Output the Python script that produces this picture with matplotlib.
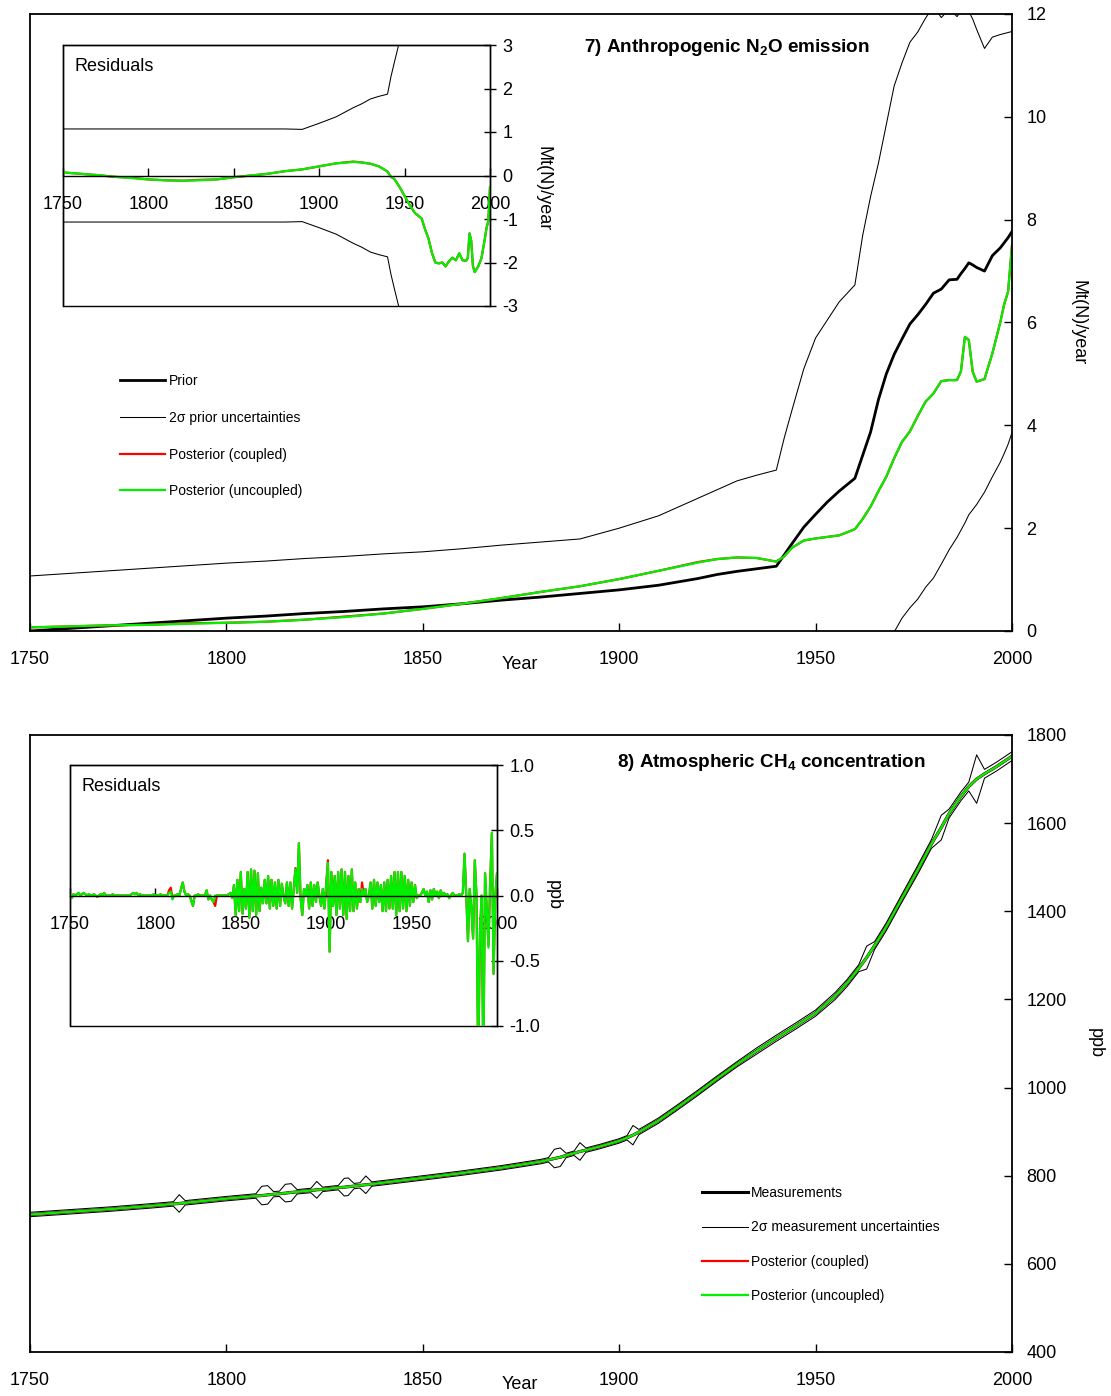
import matplotlib
matplotlib.use('Agg')
import matplotlib.pyplot as plt
import numpy as np

plt.rcParams['font.family'] = ['Liberation Sans', 'DejaVu Sans']
plt.rcParams['mathtext.fontset'] = 'custom'
plt.rcParams['mathtext.rm'] = 'Liberation Sans'
plt.rcParams['mathtext.bf'] = 'Liberation Sans:bold'
plt.rcParams['mathtext.it'] = 'Liberation Sans:italic'
plt.rcParams['axes.unicode_minus'] = False

# ---------------- N2O emission data (Mt(N)/year) ----------------
n2o_years = [1750, 1760, 1770, 1780, 1790, 1800, 1810, 1820, 1830, 1840, 1850, 1860, 1870, 1880, 1890,
             1900, 1910, 1920, 1925, 1930, 1935, 1940, 1942, 1944, 1947, 1950, 1953, 1956,
             1960, 1962, 1964, 1966, 1968, 1970, 1972, 1974, 1976, 1978, 1980, 1982, 1984, 1986,
             1987, 1988, 1989, 1990, 1991, 1993, 1995, 1997, 1998, 1999, 2000]
n2o_prior = [0.00, 0.05, 0.10, 0.15, 0.20, 0.25, 0.29, 0.34, 0.38, 0.43, 0.47, 0.53, 0.60, 0.66, 0.73,
             0.80, 0.89, 1.02, 1.10, 1.16, 1.21, 1.26, 1.48, 1.70, 2.02, 2.27, 2.51, 2.72,
             2.97, 3.42, 3.87, 4.50, 5.00, 5.38, 5.68, 5.97, 6.15, 6.35, 6.57, 6.65, 6.83, 6.84,
             6.95, 7.05, 7.16, 7.12, 7.07, 7.00, 7.30, 7.45, 7.55, 7.65, 7.77]
n2o_prior_upper = [1.07, 1.12, 1.17, 1.22, 1.27, 1.32, 1.36, 1.41, 1.45, 1.50, 1.54, 1.60, 1.67, 1.73, 1.79,
                   2.00, 2.24, 2.58, 2.75, 2.92, 3.03, 3.13, 3.75, 4.30, 5.10, 5.70, 6.05, 6.40,
                   6.73, 7.70, 8.45, 9.10, 9.85, 10.60, 11.05, 11.45, 11.65, 11.92, 12.15, 11.93, 12.10, 11.95,
                   12.05, 12.10, 12.05, 11.90, 11.70, 11.33, 11.55, 11.60, 11.62, 11.64, 11.66]
n2o_prior_lower = [-1.07, -1.02, -0.97, -0.92, -0.87, -0.82, -0.78, -0.73, -0.69, -0.64, -0.60, -0.54, -0.47, -0.41, -0.33,
                   -0.40, -0.46, -0.54, -0.55, -0.60, -0.61, -0.61, -0.79, -0.90, -1.06, -1.16, -1.03, -0.96,
                   -0.79, -0.86, -0.71, -0.60, -0.40, -0.02, 0.25, 0.45, 0.62, 0.85, 1.03, 1.30, 1.58, 1.82,
                   1.96, 2.10, 2.26, 2.36, 2.46, 2.70, 3.00, 3.28, 3.45, 3.63, 3.86]
n2o_post_uncoupled = [0.07, 0.09, 0.11, 0.12, 0.14, 0.16, 0.18, 0.22, 0.27, 0.34, 0.43, 0.53, 0.64, 0.76, 0.87,
                      1.01, 1.17, 1.33, 1.40, 1.43, 1.42, 1.35, 1.45, 1.62, 1.76, 1.80, 1.83, 1.86,
                      1.98, 2.18, 2.42, 2.72, 3.00, 3.36, 3.68, 3.88, 4.18, 4.46, 4.62, 4.86, 4.88, 4.88,
                      5.05, 5.72, 5.66, 5.04, 4.85, 4.90, 5.40, 6.00, 6.35, 6.60, 7.50]
n2o_post_coupled = [0.07, 0.09, 0.11, 0.12, 0.15, 0.16, 0.18, 0.22, 0.28, 0.34, 0.43, 0.53, 0.64, 0.76, 0.87,
                    1.01, 1.17, 1.34, 1.40, 1.43, 1.42, 1.35, 1.45, 1.62, 1.76, 1.80, 1.83, 1.86,
                    1.98, 2.18, 2.42, 2.72, 3.00, 3.36, 3.68, 3.88, 4.18, 4.46, 4.62, 4.86, 4.88, 4.88,
                    5.05, 5.72, 5.66, 5.04, 4.85, 4.90, 5.40, 6.00, 6.35, 6.60, 7.50]

# ---------------- CH4 concentration data (ppb) ----------------
ch4_years = [1750, 1760, 1770, 1780, 1786.5, 1788, 1789.5, 1800,
             1807.5, 1809, 1810.5, 1812, 1813.5, 1815, 1816.5, 1818,
             1821.5, 1823, 1824.5, 1828.5, 1830, 1831, 1832.5, 1834,
             1835.5, 1837, 1850, 1860, 1870, 1880, 1882, 1883.5,
             1885, 1886.5, 1888.5, 1890, 1891.5, 1895, 1900, 1902,
             1903.5, 1905, 1910, 1915, 1920, 1925, 1930, 1935,
             1940, 1945, 1950, 1955, 1958, 1961, 1963, 1965,
             1968, 1972, 1976, 1979.5, 1982, 1984, 1987, 1989,
             1991, 1993, 1996, 2000]
ch4_meas = [712, 718, 724, 731, 736, 737, 738.5, 748,
            754, 755, 756.5, 758, 759, 760.5, 762, 763.5,
            766.5, 768, 769, 773, 774, 775, 776.5, 778,
            779.5, 781, 795, 806, 818, 832, 836, 839,
            842, 846, 851, 855, 858, 866, 879, 886,
            892, 899, 925, 956, 988, 1021, 1053, 1083,
            1112, 1140, 1169, 1208, 1237, 1271, 1295, 1322,
            1365, 1430, 1494, 1553, 1590, 1622, 1661, 1683,
            1700, 1712, 1728, 1752]
ch4_2sigma = [5, 5, 5, 5, 5, 20, 5, 5,
              5, 21, 21, 6, 6, 20, 20, 5,
              5, 19, 5, 5, 20, 20, 6, 6,
              20, 5, 5, 5, 5, 5, 5, 21,
              21, 5, 5, 20, 5, 5, 5, 5,
              22, 6, 6, 6, 6, 6, 6, 7,
              7, 7, 7, 8, 8, 8, 26, 9,
              9, 9, 10, 10, 28, 10, 10, 10,
              55, 10, 10, 10]

resid_years = list(range(1750, 2001))
ch4_resid_uncoupled = [
    0.00, -0.02, 0.01, 0.00, 0.01, 0.02, 0.00, 0.01, 0.02, 0.01,
    0.00, 0.01, 0.00, 0.00, 0.01, 0.00, -0.01, 0.00, 0.01, 0.00,
    0.02, 0.00, 0.00, 0.00, 0.00, 0.01, 0.00, 0.00, 0.00, 0.00,
    0.00, 0.00, 0.00, 0.00, 0.00, 0.00, 0.01, 0.02, 0.01, 0.02,
    0.00, 0.01, 0.00, 0.00, 0.00, 0.00, 0.00, 0.00, 0.00, 0.01,
    0.00, 0.00, 0.00, 0.01, 0.00, 0.00, 0.00, 0.00, 0.02, 0.03,
    -0.03, 0.00, 0.00, 0.01, 0.00, 0.05, 0.10, 0.03, 0.00, 0.01,
    0.00, -0.04, -0.08, 0.00, 0.00, 0.01, 0.00, 0.00, 0.00, 0.00,
    0.04, -0.03, 0.00, -0.03, -0.05, 0.00, 0.00, 0.00, 0.00, 0.00,
    0.00, 0.00, 0.00, 0.01, 0.02, -0.02, 0.08, -0.15, 0.12, -0.12,
    0.18, -0.14, 0.05, -0.10, 0.18, -0.17, 0.20, -0.12, 0.19, -0.15,
    0.17, -0.12, 0.06, -0.06, 0.12, -0.06, 0.15, -0.10, 0.12, -0.08,
    0.10, -0.10, 0.12, -0.08, 0.09, 0.00, -0.06, 0.10, -0.08, 0.10,
    -0.10, 0.05, 0.20, 0.02, 0.40, -0.02, -0.15, 0.05, 0.00, 0.08,
    -0.10, 0.10, -0.08, 0.08, -0.05, 0.10, 0.00, -0.08, 0.05, -0.10,
    0.08, 0.25, -0.43, 0.18, -0.08, 0.15, -0.15, 0.18, -0.10, 0.20,
    -0.15, 0.18, -0.18, 0.15, -0.12, 0.20, -0.12, 0.10, -0.10, 0.05,
    -0.05, 0.05, 0.00, 0.05, -0.05, 0.00, 0.10, -0.10, 0.12, -0.08,
    0.10, -0.05, 0.08, -0.12, 0.10, -0.12, 0.12, -0.10, 0.15, -0.10,
    0.18, -0.15, 0.18, -0.12, 0.18, -0.10, 0.15, -0.12, 0.12, -0.08,
    0.10, -0.05, 0.08, -0.02, 0.00, 0.00, 0.02, 0.05, 0.00, 0.03,
    -0.05, 0.04, -0.03, 0.05, 0.00, 0.03, -0.02, 0.04, 0.00, 0.02,
    0.00, 0.01, -0.02, 0.00, 0.02, 0.00, 0.00, 0.00, 0.01, 0.00,
    0.02, 0.32, 0.00, -0.35, 0.05, -0.10, -0.33, 0.27, 0.00, -1.30,
    -0.30, 0.00, -1.30, 0.17, -0.10, -0.40, 0.10, 0.48, -0.60, 0.00,
    0.17]
ch4_resid_coupled = [
    0.00, -0.02, 0.01, 0.00, 0.01, 0.02, 0.00, 0.01, 0.02, 0.01,
    0.00, 0.01, 0.00, 0.00, 0.01, 0.00, -0.01, 0.00, 0.01, 0.00,
    0.02, 0.00, 0.00, 0.00, 0.00, 0.01, 0.00, 0.00, 0.00, 0.00,
    0.00, 0.00, 0.00, 0.00, 0.00, 0.00, 0.01, 0.02, 0.01, 0.02,
    0.00, 0.01, 0.00, 0.00, 0.00, 0.00, 0.00, 0.00, 0.00, 0.01,
    0.00, 0.00, 0.00, 0.01, 0.00, 0.00, 0.00, 0.00, 0.04, 0.06,
    -0.02, 0.00, 0.00, 0.01, 0.00, 0.05, 0.10, 0.03, 0.00, 0.01,
    0.00, -0.04, -0.08, 0.00, 0.00, 0.01, 0.00, 0.00, 0.00, 0.00,
    0.04, -0.03, 0.00, -0.03, -0.05, -0.08, 0.00, 0.00, 0.00, 0.00,
    0.00, 0.00, 0.00, 0.01, 0.02, -0.02, 0.08, -0.15, 0.12, -0.12,
    0.18, -0.14, 0.05, -0.10, 0.18, -0.17, 0.20, -0.12, 0.19, -0.15,
    0.17, -0.12, 0.06, -0.06, 0.12, -0.06, 0.15, -0.10, 0.12, -0.08,
    0.10, -0.10, 0.12, -0.08, 0.09, 0.00, -0.06, 0.10, -0.08, 0.10,
    -0.10, 0.05, 0.21, 0.02, 0.40, -0.02, -0.15, 0.05, 0.00, 0.08,
    -0.10, 0.10, -0.08, 0.08, -0.05, 0.10, 0.00, -0.08, 0.05, -0.10,
    0.08, 0.27, -0.43, 0.18, -0.08, 0.15, -0.15, 0.18, -0.10, 0.20,
    -0.15, 0.18, -0.18, 0.15, -0.12, 0.20, -0.12, 0.10, -0.10, 0.05,
    -0.05, 0.10, 0.00, 0.05, -0.05, 0.00, 0.10, -0.10, 0.12, -0.08,
    0.10, -0.05, 0.08, -0.12, 0.10, -0.12, 0.12, -0.10, 0.15, -0.10,
    0.18, -0.15, 0.18, -0.12, 0.18, -0.10, 0.15, -0.12, 0.12, -0.08,
    0.10, -0.05, 0.08, -0.02, 0.00, 0.00, 0.02, 0.05, 0.00, 0.03,
    -0.05, 0.04, -0.03, 0.05, 0.00, 0.03, -0.02, 0.04, 0.00, 0.02,
    0.00, 0.01, -0.02, 0.00, 0.02, 0.00, 0.00, 0.00, 0.01, 0.00,
    0.02, 0.32, 0.00, -0.35, 0.05, -0.10, -0.33, 0.27, 0.00, -1.30,
    -0.30, 0.00, -1.30, 0.17, -0.10, -0.38, 0.10, 0.48, -0.60, 0.00,
    0.17]

GREEN = '#00f000'
RED = '#ff0000'
FS = 13

W, H = 1111, 1396
fig = plt.figure(figsize=(W / 100, H / 100), dpi=100)


def fax(l, t, r, b):
    return fig.add_axes([l / W, 1 - b / H, (r - l) / W, (b - t) / H])


def style_main(ax, ylim, yticks, ylabel, ylabel_x, year_y):
    ax.set_xlim(1750, 2000)
    ax.set_ylim(*ylim)
    ax.set_xticks(range(1750, 2001, 50))
    ax.set_yticks(yticks)
    ax.yaxis.tick_right()
    ax.tick_params(axis='x', direction='in', length=6, width=1, pad=14.5, labelsize=FS)
    ax.tick_params(axis='y', direction='in', length=6, width=1, pad=10.5, labelsize=FS)
    for s in ax.spines.values():
        s.set_linewidth(1.3)
    ax.yaxis.set_label_position('right')
    ax.set_ylabel(ylabel, fontsize=FS, rotation=270, va='center', ha='center')
    ax.yaxis.set_label_coords(ylabel_x, 0.5)
    ax.text(0.499, year_y, 'Year', transform=ax.transAxes, ha='center', va='center', fontsize=FS)


def style_inset(ax, ylim, yticks, ylabel, ylabel_x, ylabel_y, fmt):
    ax.set_facecolor('white')
    ax.set_xlim(1750, 2000)
    ax.set_ylim(*ylim)
    ax.set_xticks(range(1750, 2001, 50))
    ax.set_yticks(yticks)
    ax.set_yticklabels([fmt.format(v) for v in yticks])
    ax.spines['bottom'].set_position(('data', 0))
    for s in ax.spines.values():
        s.set_linewidth(1.0)
    ax.patch.set_edgecolor('black')
    ax.patch.set_linewidth(1.0)
    ax.yaxis.tick_right()
    ax.tick_params(axis='x', direction='in', length=6, width=1, pad=14.5, labelsize=FS)
    ax.tick_params(axis='y', direction='inout', length=8, width=1, pad=5, labelsize=FS)
    ax.yaxis.set_label_position('right')
    ax.set_ylabel(ylabel, fontsize=FS, rotation=270, va='center', ha='center')
    ax.yaxis.set_label_coords(ylabel_x, ylabel_y)
    ax.text(0.028, 0.917, 'Residuals', transform=ax.transAxes, ha='left', va='center', fontsize=FS)


# ================= Panel 7: N2O emission =================
ax1 = fax(30, 14, 1012, 631)
yrs = np.array(n2o_years, dtype=float)
prior = np.array(n2o_prior)
up = np.array(n2o_prior_upper)
lo = np.array(n2o_prior_lower)
pu = np.array(n2o_post_uncoupled)
pc = np.array(n2o_post_coupled)

l_unc, = ax1.plot(yrs, up, color='black', lw=0.75)
ax1.plot(yrs, lo, color='black', lw=0.75)
l_prior, = ax1.plot(yrs, prior, color='black', lw=2.0)
l_red, = ax1.plot(yrs, pc, color=RED, lw=1.6)
l_green, = ax1.plot(yrs, pu, color=GREEN, lw=1.6)
style_main(ax1, (0, 12), range(0, 13, 2), 'Mt(N)/year', 1.067, -0.054)
ax1.text(0.564, 0.9465, r'7) Anthropogenic N$_{\mathbf{2}}$O emission', transform=ax1.transAxes,
         ha='left', va='center', fontsize=13.6, fontweight='bold')
ax1.legend([l_prior, l_unc, l_red, l_green],
           ['Prior', '2σ prior uncertainties', 'Posterior (coupled)', 'Posterior (uncoupled)'],
           loc='upper left', bbox_to_anchor=(0.0916, 0.4166), frameon=False, fontsize=10,
           borderpad=0, borderaxespad=0, handlelength=3.24, handletextpad=0.29, labelspacing=1.64)

ins1 = fax(63, 45, 490, 306)
ins1.plot(yrs, up - prior, color='black', lw=0.75)
ins1.plot(yrs, lo - prior, color='black', lw=0.75)
ins1.plot(yrs, pc - prior, color=RED, lw=1.6)
ins1.plot(yrs, pu - prior, color=GREEN, lw=1.6)
style_inset(ins1, (-3, 3), [-3, -2, -1, 0, 1, 2, 3], 'Mt(N)/year', 1.125, 0.45, '{:g}')

# ================= Panel 8: CH4 concentration =================
ax2 = fax(30, 735, 1012, 1352)
cy = np.array(ch4_years, dtype=float)
cm = np.array(ch4_meas, dtype=float)
cs = np.array(ch4_2sigma, dtype=float)
m_unc, = ax2.plot(cy, cm + cs, color='black', lw=0.75)
ax2.plot(cy, cm - cs, color='black', lw=0.75)
m_meas, = ax2.plot(cy, cm, color='black', lw=2.2)
m_red, = ax2.plot(cy, cm, color=RED, lw=1.6)
m_green, = ax2.plot(cy, cm, color=GREEN, lw=1.6)
style_main(ax2, (400, 1800), range(400, 1801, 200), 'ppb', 1.0845, -0.053)
ax2.text(0.598, 0.956, r'8) Atmospheric CH$_{\mathbf{4}}$ concentration', transform=ax2.transAxes,
         ha='left', va='center', fontsize=13.6, fontweight='bold')
ax2.legend([m_meas, m_unc, m_red, m_green],
           ['Measurements', '2σ measurement uncertainties', 'Posterior (coupled)', 'Posterior (uncoupled)'],
           loc='upper left', bbox_to_anchor=(0.6843, 0.2690), frameon=False, fontsize=10,
           borderpad=0, borderaxespad=0, handlelength=3.3, handletextpad=0.22, labelspacing=1.47)

ins2 = fax(70, 765, 497, 1026)
ry = np.array(resid_years, dtype=float)
ins2.plot(ry, ch4_resid_coupled, color=RED, lw=1.6)
ins2.plot(ry, ch4_resid_uncoupled, color=GREEN, lw=1.6)
style_inset(ins2, (-1, 1), [-1.0, -0.5, 0.0, 0.5, 1.0], 'ppb', 1.131, 0.5, '{:.1f}')

fig.savefig('out.png', dpi=100)
